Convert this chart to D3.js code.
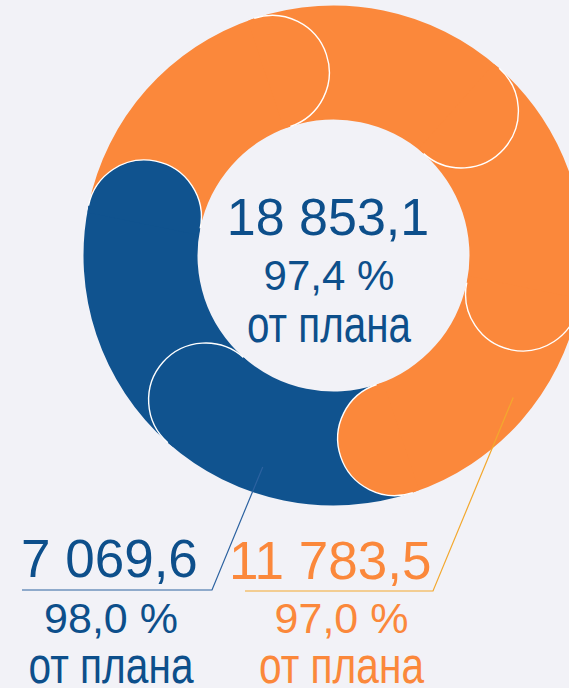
<!DOCTYPE html>
<html>
<head>
<meta charset="utf-8">
<script src="https://cdn.jsdelivr.net/npm/d3@7"></script>
<style>
  html, body { margin: 0; padding: 0; background: #f2f2f7; }
  svg { display: block; }
  text { font-family: "Liberation Sans", Arial, sans-serif; }
</style>
</head>
<body>
<div class="div-chart"></div>
<script>
// values from the chart
const categories = ['blue', 'orange'];
const values = [7069.6, 11783.5];
const planPct = [98.0, 97.0];
const totalPct = 97.4;
const colors = ['#10538f', '#fb883b'];
const textColors = ['#0d4f8b', '#fb883b'];
const lineColors = ['#2c62a0', '#f3a82e'];
const planText = 'от плана';

const width = 569, height = 688;
const cx = 333.5, cy = 255.5;
const rInner = 136, rOuter = 250;
const rMid = (rInner + rOuter) / 2, rCap = (rOuter - rInner) / 2;
const nPieces = 6;

const ru = d3.formatLocale({ decimal: ',', thousands: ' ', grouping: [3], currency: ['', ''] });
const fmtNum = ru.format(',.1f');
const fmtPct = v => ru.format('.1f')(v) + ' %';

const total = d3.sum(values);

const svg = d3.select('.div-chart')
    .append('svg')
    .attr('width', width)
    .attr('height', height);

const g = svg.append('g')
    .attr('transform', `translate(${cx},${cy})`);

// split the ring into rounded pieces, count per category from its share
const counts = values.map(v => Math.round(v / total * nPieces));
const pieces = [];
counts.forEach((c, i) => d3.range(c).forEach(() => pieces.push(i)));

const angle = d3.scaleLinear()
    .domain([0, pieces.length])
    .range([161.5 * Math.PI / 180, 161.5 * Math.PI / 180 + 2 * Math.PI]);

const arc = d3.arc().innerRadius(rInner).outerRadius(rOuter);

// bodies
g.selectAll('.body')
    .data(pieces)
    .enter().append('path')
    .attr('class', 'body')
    .attr('fill', d => colors[d])
    .attr('d', (d, i) => arc({ startAngle: angle(i), endAngle: angle(i + 1) }));

// rounded ends on top of the next piece
function capPath(a, extra, close) {
    const x = rMid * Math.sin(a), y = -rMid * Math.cos(a);
    const p = d3.path();
    const s = a - Math.PI / 2 - extra, e = a + Math.PI / 2 + extra;
    p.moveTo(x + rCap * Math.cos(s), y + rCap * Math.sin(s));
    p.arc(x, y, rCap, s, e);
    if (close) p.closePath();
    return p.toString();
}

const caps = g.selectAll('.cap')
    .data(pieces)
    .enter().append('g')
    .attr('class', 'cap');

caps.append('path')
    .attr('fill', d => colors[d])
    .attr('d', (d, i) => capPath(angle(i + 1), 0.12, true));

caps.append('path')
    .attr('fill', 'none')
    .attr('stroke', '#ffffff')
    .attr('stroke-width', 1.4)
    .attr('d', (d, i) => capPath(angle(i + 1), 0, false));

// centre text
svg.append('text')
    .attr('x', 328).attr('y', 235)
    .attr('text-anchor', 'middle')
    .attr('font-size', 52)
    .attr('fill', textColors[0])
    .text(fmtNum(total));

svg.append('text')
    .attr('x', 329).attr('y', 290)
    .attr('text-anchor', 'middle')
    .attr('font-size', 42)
    .attr('fill', textColors[0])
    .text(fmtPct(totalPct));

svg.append('text')
    .attr('x', 329).attr('y', 342)
    .attr('text-anchor', 'middle')
    .attr('font-size', 52)
    .attr('textLength', 164)
    .attr('lengthAdjust', 'spacingAndGlyphs')
    .attr('fill', textColors[0])
    .text(planText);

// callouts
const callouts = [
    { a: 198.5, r: 223, knee: [212, 590], end: 22, tx: 21, ty: 577, mx: 111 },
    { a: 128.3, r: 229, knee: [433, 591], end: 245, tx: 229, ty: 579, mx: 341.5 }
];

callouts.forEach((c, i) => {
    const a = c.a * Math.PI / 180;
    const sx = cx + c.r * Math.sin(a), sy = cy - c.r * Math.cos(a);
    svg.append('path')
        .attr('fill', 'none')
        .attr('stroke', lineColors[i])
        .attr('stroke-width', 1.2)
        .attr('d', `M${sx},${sy}L${c.knee[0]},${c.knee[1]}L${c.end},${c.knee[1]}`);

    svg.append('text')
        .attr('x', c.tx).attr('y', c.ty)
        .attr('font-size', 53)
        .attr('fill', textColors[i])
        .text(fmtNum(values[i]));

    svg.append('text')
        .attr('x', c.mx).attr('y', 633)
        .attr('text-anchor', 'middle')
        .attr('font-size', 43)
        .attr('fill', textColors[i])
        .text(fmtPct(planPct[i]));

    svg.append('text')
        .attr('x', c.mx).attr('y', 683)
        .attr('text-anchor', 'middle')
        .attr('font-size', 52)
        .attr('textLength', 165)
        .attr('lengthAdjust', 'spacingAndGlyphs')
        .attr('fill', textColors[i])
        .text(planText);
});
</script>
</body>
</html>
